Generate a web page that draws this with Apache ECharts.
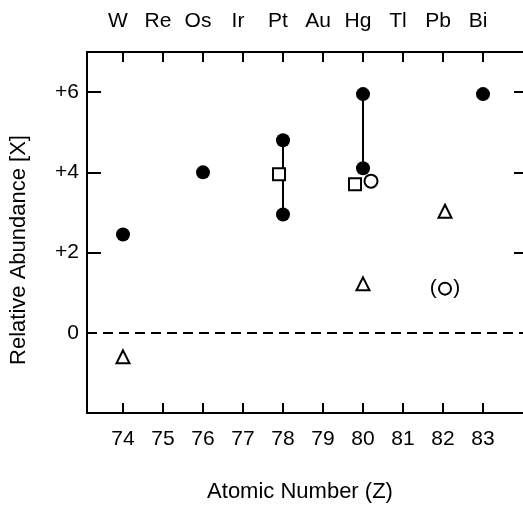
<!DOCTYPE html>
<html>
<head>
<meta charset="utf-8">
<script src="https://cdn.jsdelivr.net/npm/echarts@6/dist/echarts.min.js"></script>
<style>
  html, body { margin: 0; padding: 0; background: #fff; }
  #chart { width: 523px; height: 509px; }
</style>
</head>
<body>
<div id="chart"></div>
<script>
// atomic numbers on the bottom axis, element symbols on the top axis
var zTicks = [74, 75, 76, 77, 78, 79, 80, 81, 82, 83]
var elements = ['W', 'Re', 'Os', 'Ir', 'Pt', 'Au', 'Hg', 'Tl', 'Pb', 'Bi']
var yTicks = [0, 2, 4, 6]

// filled circles
var filledPts = [[74, 2.45], [76, 4.0], [78, 4.8], [78, 2.95], [80, 5.95], [80, 4.1], [83, 5.95]]
// open squares
var squarePts = [[77.9, 3.95], [79.8, 3.7]]
// open circles
var openPts = [[80.2, 3.78]]
// open circle in parentheses
var parenPts = [[82.05, 1.1]]
// open triangles
var trianglePts = [[74, -0.6], [80, 1.22], [82.05, 3.03]]
// vertical ranges
var ptRange = [[78, 4.8], [78, 2.95]]
var hgRange = [[80, 5.95], [80, 4.1]]

var font = 'Liberation Sans, Arial, Helvetica, sans-serif'
var chart = echarts.init(document.getElementById('chart'))

var option = {
  backgroundColor: '#fff',
  animation: false,
  grid: { left: 87, top: 52, right: 0, bottom: 96 },
  xAxis: [
    {
      type: 'value',
      position: 'bottom',
      min: 73.1,
      max: 84,
      axisLine: { onZero: false, lineStyle: { color: '#000', width: 2 } },
      axisTick: { inside: true, length: 10, lineStyle: { color: '#000', width: 2 }, customValues: zTicks },
      axisLabel: { customValues: zTicks, margin: 16, color: '#000', fontSize: 21, fontFamily: font },
      splitLine: { show: false }
    },
    {
      type: 'value',
      position: 'top',
      min: 73.1,
      max: 84,
      axisLine: { onZero: false, lineStyle: { color: '#000', width: 2 } },
      axisTick: { inside: true, length: 10, lineStyle: { color: '#000', width: 2 }, customValues: zTicks },
      axisLabel: {
        customValues: zTicks,
        margin: 20,
        color: '#000',
        fontSize: 21,
        fontFamily: font,
        padding: [0, 10, 0, 0],
        formatter: function (v) { return elements[zTicks.indexOf(Math.round(v))] || '' }
      },
      splitLine: { show: false }
    }
  ],
  yAxis: [
    {
      type: 'value',
      position: 'left',
      min: -2,
      max: 7,
      axisLine: { onZero: false, lineStyle: { color: '#000', width: 2 } },
      axisTick: { inside: true, length: 14, lineStyle: { color: '#000', width: 2 }, customValues: [2, 4, 6] },
      axisLabel: {
        customValues: yTicks,
        margin: 8,
        color: '#000',
        fontSize: 21,
        fontFamily: font,
        formatter: function (v) { return v > 0 ? '+' + v : String(v) }
      },
      splitLine: { show: false }
    },
    {
      type: 'value',
      position: 'right',
      min: -2,
      max: 7,
      axisLine: { show: false, onZero: false },
      axisTick: { inside: true, length: 9, lineStyle: { color: '#000', width: 2 }, customValues: [2, 4, 6] },
      axisLabel: { show: false },
      splitLine: { show: false }
    }
  ],
  graphic: [
    {
      type: 'text',
      x: 19,
      y: 250,
      rotation: Math.PI / 2,
      style: { text: 'Relative Abundance [X]', fill: '#000', font: '22px ' + font, align: 'center', verticalAlign: 'middle' }
    },
    {
      type: 'text',
      x: 300,
      y: 492,
      style: { text: 'Atomic Number (Z)', fill: '#000', font: '22px ' + font, align: 'center', verticalAlign: 'middle' }
    }
  ],
  series: [
    {
      type: 'line',
      data: ptRange,
      symbol: 'none',
      lineStyle: { color: '#000', width: 2 },
      markLine: {
        silent: true,
        symbol: 'none',
        label: { show: false },
        lineStyle: { color: '#000', width: 2, type: [10, 6] },
        data: [{ yAxis: 0 }]
      }
    },
    {
      type: 'line',
      data: hgRange,
      symbol: 'none',
      lineStyle: { color: '#000', width: 2 }
    },
    {
      type: 'scatter',
      data: filledPts,
      symbol: 'circle',
      symbolSize: 14,
      itemStyle: { color: '#000', opacity: 1 },
      z: 3
    },
    {
      type: 'scatter',
      data: squarePts,
      symbol: 'rect',
      symbolSize: 12,
      itemStyle: { color: '#fff', borderColor: '#000', borderWidth: 2, opacity: 1 },
      z: 4
    },
    {
      type: 'scatter',
      data: openPts,
      symbol: 'circle',
      symbolSize: 13,
      itemStyle: { color: '#fff', borderColor: '#000', borderWidth: 2, opacity: 1 },
      z: 4
    },
    {
      type: 'scatter',
      data: parenPts,
      symbol: 'circle',
      symbolSize: 12,
      itemStyle: { color: '#fff', borderColor: '#000', borderWidth: 2, opacity: 1 },
      label: {
        show: true,
        position: 'inside',
        formatter: '(\u2002 )',
        color: '#000',
        fontSize: 21,
        fontFamily: font
      },
      z: 4
    },
    {
      type: 'scatter',
      data: trianglePts,
      symbol: 'triangle',
      symbolSize: 13,
      itemStyle: { color: '#fff', borderColor: '#000', borderWidth: 2, opacity: 1 },
      z: 4
    }
  ]
}
option && chart.setOption(option)
</script>
</body>
</html>
